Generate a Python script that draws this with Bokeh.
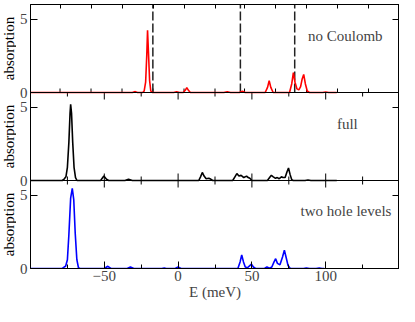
import numpy as np
from bokeh.plotting import figure
from bokeh.models import Range1d, FixedTicker, LinearAxis, Span, Label
from bokeh.layouts import row
from bokeh.core.properties import value
from bokeh.embed import file_html
from bokeh.resources import INLINE

# ---------------- data ----------------
# "no Coulomb" spectrum (red)
e_nocoul = [-100, -31, -29, -27.5, -24, -23, -22, -21.2, -20.7, -20.1, -19.3, -18.5, -17.5,
            -3, -1, 1, 3.5, 4.8, 5.9, 7, 8.3, 31, 33.3, 35.5, 41.5, 43.6, 45.5,
            59, 60.6, 61.7, 62.8, 64.4, 75.5, 77, 78.1, 79.2, 80.5, 81.8, 83, 84, 85.1, 86.2, 87.5, 89,
            98, 100, 102, 107.5]
a_nocoul = [0, 0, 0.06, 0, 0, 0.1, 0.7, 2.6, 4.25, 2.8, 0.8, 0.1, 0,
            0, 0.05, 0, 0, 0.15, 0.33, 0.15, 0, 0, 0.05, 0, 0, 0.08, 0,
            0, 0.35, 0.81, 0.35, 0, 0, 0.6, 1.35, 0.7, 0.25, 0.18, 0.4, 0.9, 1.23, 0.6, 0.1, 0,
            0, 0.04, 0, 0]

# "full" spectrum (black)
e_full = [-100, -78.5, -77.2, -76, -75, -74, -73.2, -72.8, -72.2, -71.4, -70.5, -69.5, -68.5,
          -52.5, -50.3, -48.5, -47, -36, -33.6, -31,
          14, 15.2, 16.4, 17.6, 19, 20.8, 22.3, 23.5,
          37, 38.5, 39.8, 41.2, 42.7, 44.5, 46.4, 47.5, 48.6, 50,
          60.5, 62, 63.2, 64.5, 66, 67.2, 68.5, 70, 71, 72.5, 73.8, 74.8, 75.9, 77, 78,
          86, 88, 90, 107.5]
a_full = [0, 0, 0.1, 0.25, 0.9, 2.6, 4.6, 5.2, 4.6, 2.6, 0.9, 0.2, 0,
          0, 0.3, 0.08, 0, 0, 0.08, 0,
          0, 0.25, 0.55, 0.3, 0.12, 0.15, 0.08, 0,
          0, 0.25, 0.47, 0.3, 0.35, 0.2, 0.3, 0.2, 0.15, 0,
          0, 0.2, 0.35, 0.25, 0.15, 0.2, 0.12, 0.25, 0.2, 0.2, 0.6, 0.85, 0.4, 0.05, 0,
          0, 0.03, 0, 0]

# "two hole levels" spectrum (blue)
e_two = [-100, -78.5, -77.2, -76.2, -75, -74, -72.8, -71.7, -70.7, -69.7, -68.6, -67.5, -66.5,
         -50, -47.6, -45.5, -34.5, -32.3, -30, -11, -9.4, -8, -2, 0, 2,
         40.5, 42, 43.1, 44.3, 45.5, 47, 48.6, 49.7, 51, 52.5,
         58.5, 60.2, 62, 63.5, 65, 66.1, 67.3, 69, 70.8, 72, 73.2, 74.5, 76,
         85, 86.9, 89, 93.5, 95.6, 97.5, 99]
a_two = [0, 0, 0.1, 0.15, 0.6, 2.3, 4.8, 5.46, 4.7, 2.4, 0.6, 0.05, 0,
         0, 0.15, 0, 0, 0.1, 0, 0, 0.03, 0, 0, 0.1, 0,
         0, 0.45, 0.92, 0.45, 0.1, 0.05, 0.2, 0.3, 0.1, 0,
         0, 0.1, 0.02, 0.1, 0.45, 0.67, 0.35, 0.25, 0.8, 1.25, 0.75, 0.2, 0,
         0, 0.04, 0, 0, 0.03, 0, 0]

# dashed reference energies in the top panel
marker_energies = [-17.1, 42.2, 79.0]

panel_titles = ["no Coulomb", "full", "two hole levels"]
panel_colors = ["#ff0000", "#000000", "#0000ff"]
y_title = "absorption"

x_major = [-50, 0, 50, 100]
x_minor = [-75, -25, 25, 75, 125]
top_panel_ticks = [-80, -59, -38, -17, 4, 25, 45, 66, 87, 108, 129]
y_major = [0, 5]
y_span = 6  # each panel shows absorption 0..6

FONT = "Liberation Serif"
FS = "15px"
TOP_B, BOT_B = 4, 38
LEFT_W = 16

# shared vertical ranges: bottom panel = default, middle and top offset ranges
y_default = Range1d(0, 3 * y_span)
y_extra = {
    "mid": Range1d(-y_span, 2 * y_span),
    "top": Range1d(-2 * y_span, y_span),
}

# ---------------- main figure: three stacked panels ----------------
p = figure(width=399 - LEFT_W, height=306, x_range=Range1d(-100, 150), y_range=y_default,
           output_backend="svg", toolbar_location=None,
           min_border_left=8, min_border_right=0, min_border_top=TOP_B, min_border_bottom=BOT_B)
p.grid.visible = False
p.outline_line_color = "black"
p.outline_line_width = 1
p.extra_y_ranges = y_extra

# left axis: 0 / 5 for each panel
left_ticks = []
left_over = {}
for k in range(3):
    for t in y_major:
        left_ticks.append(t + k * y_span)
        left_over[t + k * y_span] = str(t)
ya = p.yaxis[0]
ya.ticker = FixedTicker(ticks=left_ticks)
ya.major_label_overrides = left_over
ya.major_label_text_font = FONT
ya.major_label_text_font_size = FS
ya.major_label_standoff = 3
ya.major_tick_in = 7
ya.major_tick_out = 0
ya.minor_tick_in = 0
ya.minor_tick_out = 0

ra = LinearAxis(ticker=FixedTicker(ticks=left_ticks), major_label_text_font_size="0px",
                major_label_standoff=0, major_tick_in=7, major_tick_out=0,
                minor_tick_in=0, minor_tick_out=0)
p.add_layout(ra, "right")

# bottom axis
xa = p.xaxis[0]
xa.ticker = FixedTicker(ticks=x_major, minor_ticks=x_minor)
xa.major_tick_in = 7
xa.major_tick_out = 0
xa.minor_tick_in = 4
xa.minor_tick_out = 0
xa.major_label_text_font = FONT
xa.major_label_text_font_size = FS
xa.major_label_standoff = 2
xa.axis_label = "E (meV)"
xa.axis_label_text_font = FONT
xa.axis_label_text_font_size = FS
xa.axis_label_text_font_style = "normal"
xa.axis_label_standoff = 0

# top axis (top panel has its own tick spacing)
ta = LinearAxis(ticker=FixedTicker(ticks=top_panel_ticks), major_label_text_font_size="0px",
                major_label_standoff=0, major_tick_in=4, major_tick_out=0,
                minor_tick_in=0, minor_tick_out=0)
p.add_layout(ta, "above")

# panel separators
for rn in ["mid", "top"]:
    p.add_layout(Span(location=0, dimension="width", y_range_name=rn,
                      line_color="black", line_width=1))

# inward ticks along the inner panel edges
up, down = np.pi / 2, -np.pi / 2
p.ray(x=top_panel_ticks, y=[0] * len(top_panel_ticks), y_range_name="top",
      length=4, length_units="screen", angle=up, line_color="black", line_width=1)
for rn, yy, ang in [("mid", y_span, down), ("mid", 0, up), ("default", y_span, down)]:
    p.ray(x=x_major, y=[yy] * len(x_major), y_range_name=rn,
          length=7, length_units="screen", angle=ang, line_color="black", line_width=1)
    p.ray(x=x_minor, y=[yy] * len(x_minor), y_range_name=rn,
          length=4, length_units="screen", angle=ang, line_color="black", line_width=1)

# dashed markers in the top panel
p.segment(x0=marker_energies, y0=[0] * 3, x1=marker_energies, y1=[y_span] * 3,
          y_range_name="top", line_color="#222222", line_width=1.5, line_dash="9 3")

# spectra
p.line(e_nocoul, a_nocoul, y_range_name="top", line_color=panel_colors[0], line_width=1.6)
p.line(e_full, a_full, y_range_name="mid", line_color=panel_colors[1], line_width=1.6)
p.line(e_two, a_two, line_color=panel_colors[2], line_width=1.6)

# panel titles
p.add_layout(Label(x=88, y=3.83, y_range_name="top", text=panel_titles[0], text_font=FONT,
                   text_font_size=FS, text_baseline="alphabetic"))
p.add_layout(Label(x=107.6, y=3.86, y_range_name="mid", text=panel_titles[1], text_font=FONT,
                   text_font_size=FS, text_baseline="alphabetic"))
p.add_layout(Label(x=83, y=3.9, text=panel_titles[2], text_font=FONT,
                   text_font_size=FS, text_baseline="alphabetic"))

# ---------------- narrow strip holding the three y titles ----------------
q = figure(width=LEFT_W, height=306, x_range=Range1d(0, 1), y_range=y_default,
           x_axis_type=None, y_axis_type=None,
           output_backend="svg", toolbar_location=None,
           min_border_left=0, min_border_right=0, min_border_top=TOP_B, min_border_bottom=BOT_B)
q.grid.visible = False
q.outline_line_color = None
q.extra_y_ranges = y_extra
for rn in ["top", "mid", "default"]:
    q.text(x=[0.5], y=[y_span / 2], y_range_name=rn, text=[y_title], angle=np.pi / 2,
           text_align="center", text_baseline="middle",
           text_font=value(FONT), text_font_size=value(FS), text_color="black")

layout = row(q, p, spacing=0)
open("out.html", "w").write(file_html(layout, INLINE))
